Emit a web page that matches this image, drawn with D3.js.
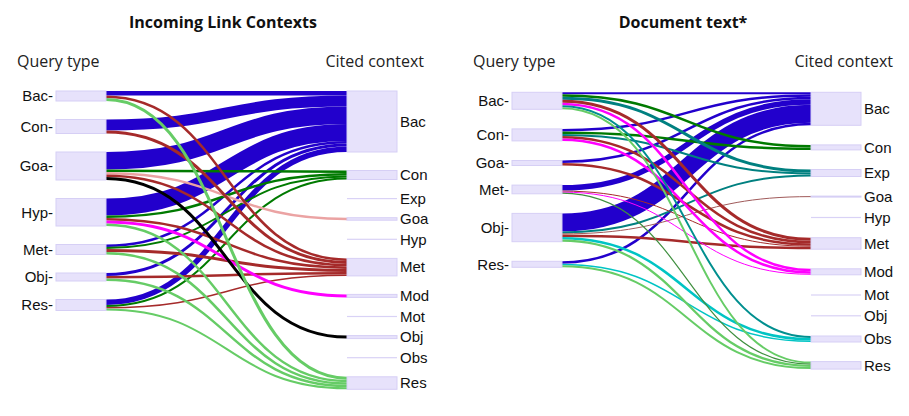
<!DOCTYPE html>
<html><head><meta charset="utf-8">
<script src="https://cdn.jsdelivr.net/npm/d3@7"></script>
<style>body{margin:0;background:#fff}</style>
</head><body><svg id="chart" width="909" height="416"></svg>
<script>
// ---------- DATA ----------
const panelTitles = ["Incoming Link Contexts", "Document text*"];
const columnTitles = ["Query type", "Cited context"];
const citedContexts = ["Bac","Con","Exp","Goa","Hyp","Met","Mod","Mot","Obj","Obs","Res"];
const leftQueryTypes = ["Bac","Con","Goa","Hyp","Met","Obj","Res"];
const rightQueryTypes = ["Bac","Con","Goa","Met","Obj","Res"];
// [query type, cited context, value]
const leftLinks = [
  ["Bac","Bac",4.5],["Bac","Met",2.5],["Bac","Res",3],
  ["Con","Bac",11],["Con","Met",3],
  ["Goa","Bac",17.5],["Goa","Con",2.5],["Goa","Goa",2.5],["Goa","Met",2.5],["Goa","Obj",3],
  ["Hyp","Bac",17],["Hyp","Con",2.5],["Hyp","Met",2.5],["Hyp","Mod",3],["Hyp","Res",2.5],
  ["Met","Bac",2.5],["Met","Con",2],["Met","Met",3],["Met","Res",2.5],
  ["Obj","Bac",3],["Obj","Met",2.5],["Obj","Res",2.5],
  ["Res","Bac",5.5],["Res","Con",2],["Res","Met",1.5],["Res","Res",2]
];
const rightLinks = [
  ["Bac","Bac",2],["Bac","Con",2.5],["Bac","Exp",3],["Bac","Met",3],["Bac","Mod",2.5],["Bac","Obs",2],["Bac","Res",2],
  ["Con","Bac",2.5],["Con","Con",2.5],["Con","Exp",2],["Con","Met",2.5],["Con","Mod",2.5],
  ["Goa","Bac",2.5],["Goa","Met",2.5],
  ["Met","Bac",5.5],["Met","Met",1],["Met","Mod",1],["Met","Res",1.2],
  ["Obj","Bac",18],["Obj","Exp",2],["Obj","Goa",1],["Obj","Met",2.5],["Obj","Obs",2.5],["Obj","Res",2.3],
  ["Res","Bac",2.5],["Res","Obs",1.5],["Res","Res",2]
];

// ---------- STYLE ----------
const targetColor = {Bac:"#2200cc",Con:"#007a00",Exp:"#008080",Goa:"#eba3a3",Hyp:"#888",Met:"#a52a2a",
  Mod:"#ff00ff",Mot:"#888",Obj:"#000000",Obs:"#00c4c4",Res:"#66cc66"};
const colorOverrides = [{}, {"Obj>Goa":"#a05a5a","Bac>Obs":"#008f8f","Met>Res":"#3f8f3f"}];
const panels = [
  {title:panelTitles[0], sources:leftQueryTypes, links:leftLinks, sx:56, tx:347, w:50, top:91, pad:18.5, ky:1,
   titleX:223, qX:17, cX:424},
  {title:panelTitles[1], sources:rightQueryTypes, links:rightLinks, sx:512, tx:811, w:50, top:92.3, pad:19.6, ky:1,
   titleX:683, qX:473, cX:893}
];

const svg = d3.select("#chart");
const minH = 1.2;

panels.forEach((P, pi) => {
  const g = svg.append("g");
  const wScale = d3.scaleLinear().domain([0,1]).range([0,P.ky]);
  const xCol = d3.scalePoint().domain(["src","tgt"]).range([P.sx, P.tx]);
  const links = P.links.map(([s,t,v]) => ({s,t,v,w:wScale(v)}));
  function stack(names, key) {
    let y = P.top;
    return names.map((n,i) => {
      const val = d3.sum(links.filter(l => l[key] === n), l => l.v);
      const h = wScale(val);
      const node = {name:n, i, val, y0:y, h, y1:y + Math.max(h, minH)};
      y = node.y1 + P.pad;
      return node;
    });
  }
  const srcNodes = stack(P.sources, "s");
  const tgtNodes = stack(citedContexts, "t");
  const sIdx = new Map(P.sources.map((n,i)=>[n,i]));
  const tIdx = new Map(citedContexts.map((n,i)=>[n,i]));
  srcNodes.forEach(n => {
    let y = n.y0;
    links.filter(l => l.s === n.name).sort((a,b)=>tIdx.get(a.t)-tIdx.get(b.t))
      .forEach(l => { l.ys = y + l.w/2; y += l.w; });
  });
  tgtNodes.forEach(n => {
    let y = n.y0;
    links.filter(l => l.t === n.name).sort((a,b)=>sIdx.get(a.s)-sIdx.get(b.s))
      .forEach(l => { l.yt = y + l.w/2; y += l.w; });
  });
  const linkGen = d3.linkHorizontal().source(d => [xCol("src") + P.w, d.ys]).target(d => [xCol("tgt"), d.yt]);
  const ordered = links.slice().sort((a,b)=> tIdx.get(a.t)-tIdx.get(b.t) || sIdx.get(a.s)-sIdx.get(b.s));
  g.append("g").selectAll("path").data(ordered).join("path")
    .attr("d", linkGen).attr("fill","none")
    .attr("stroke", d => colorOverrides[pi][d.s+">"+d.t] || targetColor[d.t])
    .attr("stroke-width", d => d.w);

  function drawNodes(nodes, x, side) {
    const ng = g.append("g");
    ng.selectAll("rect").data(nodes).join("rect")
      .attr("x", x).attr("width", P.w)
      .attr("y", d => d.y0)
      .attr("height", d => d.h > 0.5 ? d.h : 1.2)
      .attr("fill", d => d.h > 0.5 ? "#e7e2fb" : "#d9d2f6")
      .attr("stroke", d => d.h > 0.5 ? "#d6cff5" : "none")
      .attr("stroke-width", 1);
    ng.selectAll("text").data(nodes).join("text")
      .attr("x", side === "left" ? x - 3 : x + P.w + 3)
      .attr("y", d => (d.y0 + Math.max(d.y1 - d.y0, 0)/2) )
      .attr("dy", "0.35em")
      .attr("text-anchor", side === "left" ? "end" : "start")
      .attr("font-family", "Liberation Sans, Arial, sans-serif")
      .attr("font-size", 15).attr("fill", "#111")
      .text(d => side === "left" ? d.name + "-" : d.name);
  }
  drawNodes(srcNodes, xCol("src"), "left");
  drawNodes(tgtNodes, xCol("tgt"), "right");

  g.append("text").attr("x", P.titleX).attr("y", 28).attr("text-anchor","middle")
    .attr("font-family","Open Sans, sans-serif").attr("font-weight","bold").attr("font-size",16)
    .attr("fill","#111").text(P.title);
  g.append("text").attr("x", P.qX).attr("y", 67)
    .attr("font-family","Open Sans, sans-serif").attr("font-size",16).attr("fill","#222").text(columnTitles[0]);
  g.append("text").attr("x", P.cX).attr("y", 67).attr("text-anchor","end")
    .attr("font-family","Open Sans, sans-serif").attr("font-size",16).attr("fill","#222").text(columnTitles[1]);
});
</script></body></html>
